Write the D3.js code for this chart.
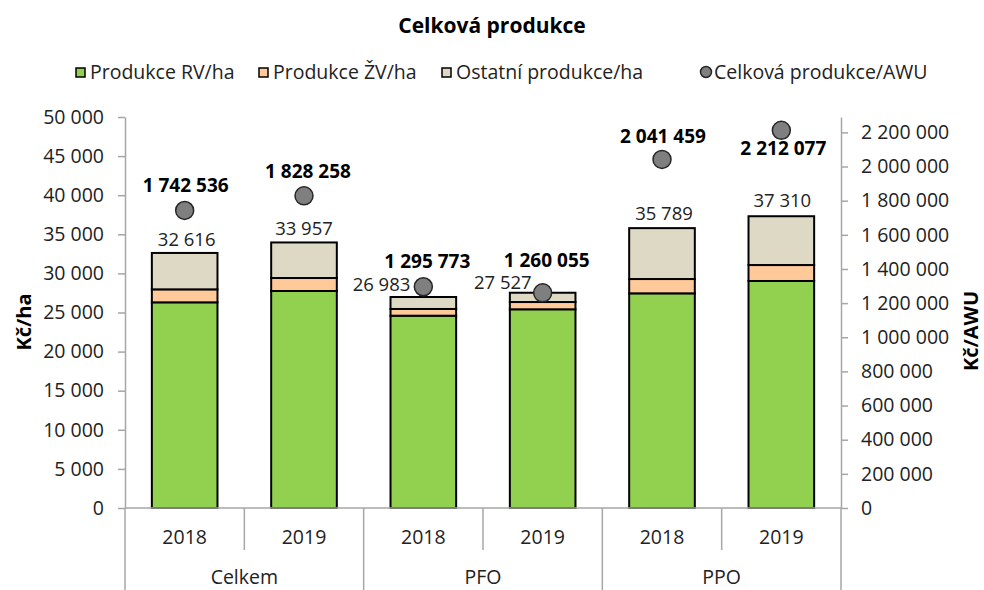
<!DOCTYPE html>
<html>
<head>
<meta charset="utf-8">
<script src="https://cdn.jsdelivr.net/npm/d3@7/dist/d3.min.js"></script>
<style>
  body { margin: 0; background: #fff; }
  svg { display: block; font-family: "Open Sans", "Noto Sans", sans-serif; }
</style>
</head>
<body>
<svg id="chart" width="984" height="590"></svg>
<script>
// ---------------- DATA ----------------
const groups = ["Celkem", "PFO", "PPO"];
const years = ["2018", "2019"];
const categories = ["Celkem|2018", "Celkem|2019", "PFO|2018", "PFO|2019", "PPO|2018", "PPO|2019"];
const rvPerHa    = [26300, 27750, 24590, 25410, 27450, 29030];
const zvPerHa    = [1660, 1660, 860, 930, 1830, 2040];
const totalPerHa = [32616, 33957, 26983, 27527, 35789, 37310];
const otherPerHa = totalPerHa.map((t, i) => t - rvPerHa[i] - zvPerHa[i]);
const perAWU     = [1742536, 1828258, 1295773, 1260055, 2041459, 2212077];
const leftTicks  = [0, 5000, 10000, 15000, 20000, 25000, 30000, 35000, 40000, 45000, 50000];
const rightTicks = [0, 200000, 400000, 600000, 800000, 1000000, 1200000, 1400000, 1600000, 1800000, 2000000, 2200000];
const seriesNames = ["Produkce RV/ha", "Produkce ŽV/ha", "Ostatní produkce/ha", "Celková produkce/AWU"];

// ---------------- STYLE / LAYOUT ----------------
const colors = ["#92D050", "#FFC999", "#DDD9C4"];
const dotFill = "#7F7F7F";
const axisColor = "#A6A6A6";
const M = { left: 125, right: 841, top: 117, bottom: 508 };
const fs = "19.5px";
// label placement tweaks (relative offsets, px)
const totalLabelPos = [
  { dx: 2, dy: -7, anchor: "middle" }, { dx: 0, dy: -7, anchor: "middle" },
  { dx: -13, dy: -6, anchor: "end" }, { dx: -11, dy: -4, anchor: "end" },
  { dx: 2, dy: -8, anchor: "middle" }, { dx: 1, dy: -9, anchor: "middle" }
];
const awuLabelPos = [
  { dx: 1, dy: -18 }, { dx: 4, dy: -18 }, { dx: 4, dy: -19 },
  { dx: 4, dy: -26 }, { dx: 1, dy: -16 }, { dx: 2, dy: 25 }
];

const locale = d3.formatLocale({ decimal: ",", thousands: " ", grouping: [3], currency: ["", ""] });
const fmt = locale.format(",");

const svg = d3.select("#chart");

const x = d3.scaleBand().domain(categories).range([M.left, M.right]).paddingInner(0.45).paddingOuter(0.225);
const y = d3.scaleLinear().domain([0, 50000]).range([M.bottom, M.top]);
const y2 = d3.scaleLinear().domain([0, 2290000]).range([M.bottom, M.top]);

// Title
svg.append("text").attr("x", 492).attr("y", 33).attr("text-anchor", "middle")
  .style("font-weight", "bold").style("font-size", "21px").attr("fill", "#000")
  .text("Celková produkce");

// Legend
const legY = 79;
const legItems = [
  { x: 76, text: seriesNames[0], color: colors[0], type: "rect" },
  { x: 259, text: seriesNames[1], color: colors[1], type: "rect" },
  { x: 442, text: seriesNames[2], color: colors[2], type: "rect" },
  { x: 700, text: seriesNames[3], color: dotFill, type: "circle" }
];
legItems.forEach(d => {
  if (d.type === "rect") {
    svg.append("rect").attr("x", d.x).attr("y", legY - 11).attr("width", 9).attr("height", 9)
      .attr("fill", d.color).attr("stroke", "#000").attr("stroke-width", 1.5);
    svg.append("text").attr("x", d.x + 14).attr("y", legY).style("font-size", fs).attr("fill", "#222").text(d.text);
  } else {
    svg.append("circle").attr("cx", d.x + 6).attr("cy", legY - 7).attr("r", 5.5)
      .attr("fill", d.color).attr("stroke", "#262626").attr("stroke-width", 1.5);
    svg.append("text").attr("x", d.x + 14).attr("y", legY).style("font-size", fs).attr("fill", "#222").text(d.text);
  }
});

// Stacked bars
const stackData = categories.map((c, i) => ({ cat: c, rv: rvPerHa[i], zv: zvPerHa[i], other: otherPerHa[i] }));
const stack = d3.stack().keys(["rv", "zv", "other"])(stackData);
svg.append("g").selectAll("g").data(stack).join("g")
  .attr("fill", (d, i) => colors[i])
  .selectAll("rect").data(d => d).join("rect")
  .attr("x", d => x(d.data.cat))
  .attr("y", d => y(d[1]))
  .attr("width", x.bandwidth())
  .attr("height", d => y(d[0]) - y(d[1]))
  .attr("stroke", "#000").attr("stroke-width", 2);

// Left axis
const gL = svg.append("g").attr("transform", `translate(${M.left},0)`)
  .call(d3.axisLeft(y).tickValues(leftTicks).tickFormat(fmt).tickSize(7).tickPadding(14).tickSizeOuter(0));
gL.select(".domain").attr("stroke", axisColor).attr("stroke-width", 1.5);
gL.selectAll(".tick line").attr("stroke", axisColor).attr("stroke-width", 1.5);
gL.selectAll(".tick text").style("font-size", fs).attr("fill", "#222").style("font-family", "'Open Sans'");

// Right axis
const gR = svg.append("g").attr("transform", `translate(${M.right},0)`)
  .call(d3.axisRight(y2).tickValues(rightTicks).tickFormat(fmt).tickSize(7).tickPadding(13).tickSizeOuter(0));
gR.select(".domain").attr("stroke", axisColor).attr("stroke-width", 1.5);
gR.selectAll(".tick line").attr("stroke", axisColor).attr("stroke-width", 1.5);
gR.selectAll(".tick text").style("font-size", fs).attr("fill", "#222").style("font-family", "'Open Sans'");

// Category axis (two levels)
const cat = svg.append("g");
cat.append("line").attr("x1", M.left).attr("x2", M.right).attr("y1", M.bottom).attr("y2", M.bottom)
  .attr("stroke", axisColor).attr("stroke-width", 1.5);
const step = x.step();
const x0 = x(categories[0]) - x.paddingOuter() * step;
categories.forEach((c, i) => {
  const bx = x0 + step * (i + 1);
  const isGroupEdge = (i % 2 === 1);
  cat.append("line").attr("x1", bx).attr("x2", bx).attr("y1", M.bottom)
    .attr("y2", isGroupEdge ? 590 : 550).attr("stroke", axisColor).attr("stroke-width", 1.5);
  cat.append("text").attr("x", x(c) + x.bandwidth() / 2).attr("y", 544).attr("text-anchor", "middle")
    .style("font-size", fs).attr("fill", "#222").text(c.split("|")[1]);
});
cat.append("line").attr("x1", x0).attr("x2", x0).attr("y1", M.bottom).attr("y2", 590)
  .attr("stroke", axisColor).attr("stroke-width", 1.5);
groups.forEach((g, gi) => {
  const cx = x0 + step * (gi * 2 + 1);
  cat.append("text").attr("x", cx).attr("y", 584).attr("text-anchor", "middle")
    .style("font-size", fs).attr("fill", "#222").text(g);
});

// Axis titles
svg.append("text").attr("transform", `translate(31,322) rotate(-90)`).attr("text-anchor", "middle")
  .style("font-weight", "bold").style("font-size", "20px").attr("fill", "#000").text("Kč/ha");
svg.append("text").attr("transform", `translate(978,331) rotate(-90)`).attr("text-anchor", "middle")
  .style("font-weight", "bold").style("font-size", "20px").attr("fill", "#000").text("Kč/AWU");

// Total labels
svg.append("g").selectAll("text").data(categories).join("text")
  .attr("x", (c, i) => x(c) + x.bandwidth() / 2 + totalLabelPos[i].dx)
  .attr("y", (c, i) => y(totalPerHa[i]) + totalLabelPos[i].dy)
  .attr("text-anchor", (c, i) => totalLabelPos[i].anchor)
  .style("font-size", "18.5px").attr("fill", "#222")
  .text((c, i) => fmt(totalPerHa[i]));

// AWU points
svg.append("g").selectAll("circle").data(categories).join("circle")
  .attr("cx", c => x(c) + x.bandwidth() / 2)
  .attr("cy", (c, i) => y2(perAWU[i]))
  .attr("r", 9)
  .attr("fill", dotFill).attr("stroke", "#262626").attr("stroke-width", 1.5);

// AWU labels
svg.append("g").selectAll("text").data(categories).join("text")
  .attr("x", (c, i) => x(c) + x.bandwidth() / 2 + awuLabelPos[i].dx)
  .attr("y", (c, i) => y2(perAWU[i]) + awuLabelPos[i].dy)
  .attr("text-anchor", "middle")
  .style("font-size", "19px").style("font-weight", "bold").attr("fill", "#000")
  .text((c, i) => fmt(perAWU[i]));
</script>
</body>
</html>
